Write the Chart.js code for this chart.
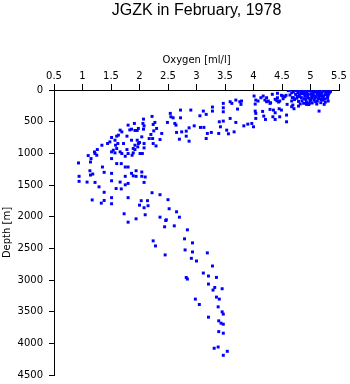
<!DOCTYPE html>
<html>
<head>
<meta charset="utf-8">
<script src="https://cdn.jsdelivr.net/npm/chart.js@4"></script>
<style>
html,body{margin:0;padding:0;background:#fff;}
#wrap{width:350px;height:384px;position:relative;}
</style>
</head>
<body>
<div id="wrap"><canvas id="c"></canvas></div>
<script>
// Tick values
const xTicks = [0.5, 1, 1.5, 2, 2.5, 3, 3.5, 4, 4.5, 5, 5.5];
const depthTicks = [0, 500, 1000, 1500, 2000, 2500, 3000, 3500, 4000, 4500];

// Surface cluster (oxygen ml/l, depth m)
const surfaceOxygen = [4.75,4.78,4.80,4.82,4.84,4.86,4.88,4.90,4.92,4.94,4.96,4.98,5.00,5.02,5.04,5.06,5.08,5.10,5.12,5.14,5.16,5.18,5.20,5.22,5.24,5.26,5.28,5.30,5.32,5.34,
  4.76,4.79,4.81,4.83,4.85,4.87,4.89,4.91,4.93,4.95,4.97,4.99,5.01,5.03,5.05,5.07,5.09,5.11,5.13,5.15,5.17,5.19,5.21,5.23,5.25,5.27,5.29,5.31,5.33,5.35,
  4.74,4.77,4.80,4.85,4.90,4.95,5.00,5.05,5.10,5.15,5.20,5.25,5.30,4.88,4.97,5.03,5.12,5.18,5.22,4.82,4.72,4.70,4.68,5.26,5.08,4.93,5.16];
const surfaceDepth = [10,40,80,20,120,60,5,100,150,30,70,130,15,90,50,160,25,110,65,140,10,85,45,120,20,75,35,100,55,15,
  130,180,105,55,170,35,140,60,195,85,10,175,60,125,30,95,185,40,80,115,55,150,5,90,140,60,15,80,40,25,
  70,100,0,15,45,120,160,75,0,35,100,0,130,210,230,205,175,200,160,220,150,30,120,190,130,0,90];

// Upper mixed layer points
const upperOxygen = [4.01,4.04,4.08,4.13,4.17,4.20,4.23,4.26,4.30,4.33,4.42,4.42,4.38,4.46,4.49,4.52,4.57,4.59,4.67,4.63,4.67,4.70,4.67,4.71,3.79,3.78,4.03,4.23,4.29,4.41,4.44,4.51,4.55,4.61,4.64,4.69,4.79,4.93,4.98,5.11,5.24,5.15,5.31,5.34,
  4.03,4.04,4.04,4.16,4.18,4.21,4.29,4.35,4.38,4.45,4.49,4.34,4.38,4.46,4.58,4.58,3.83,3.90,3.97,4.00];
const upperDepth = [95,159,174,122,95,159,122,174,201,68,52,122,147,174,84,138,84,227,174,0,43,122,264,296,174,227,222,185,211,170,190,95,106,11,79,238,254,227,211,222,227,333,174,16,
  333,369,449,338,412,465,306,317,359,296,317,423,465,423,396,502,566,539,528,581];

// Intermediate band
const midOxygen = [2.54,2.55,2.59,2.72,2.72,2.90,3.06,3.12,3.17,3.28,3.28,2.49,2.62,2.64,2.87,2.96,3.07,3.13,2.65,2.82,2.82,2.87,2.70,2.74,3.19,3.26,3.17,3.39,3.40,3.47,3.42,3.53,3.56,3.66,3.59,3.69,3.72,3.47,3.47,3.47,3.59,3.69,3.76,3.62];
const midDepth = [369,423,439,317,439,317,407,333,385,269,333,512,528,555,597,566,591,591,670,650,729,808,777,661,686,670,766,686,502,491,581,634,692,661,449,512,301,211,280,344,185,159,185,211];

// Oxygen minimum limb
const limbOxygen = [2.07,2.06,2.08,2.07,1.86,1.92,1.96,2.22,2.27,2.24,2.30,2.25,2.39,2.04,1.86,1.96,2.00,2.08,2.08,1.92,1.89,2.17,2.23,2.20,2.24,2.29,2.36,1.91,1.80,1.83,1.98,1.78,1.98,
  0.93,1.10,1.14,1.15,1.21,1.22,1.25,1.26,1.35,1.34,1.44,1.48,1.51,1.57,1.60,1.63,1.66,1.69,1.51,1.54,1.57,1.60,1.62,1.58,1.66,1.69,1.72,1.78,1.80,1.75,1.51,1.60,1.68,1.75,1.80,1.87,1.89,1.92,1.97,2.01,2.05];
const limbDepth = [460,528,566,618,618,639,639,417,512,544,607,645,686,740,793,793,829,845,914,872,924,766,766,702,845,883,782,528,555,630,607,729,845,
  1152,1035,1137,1083,978,1003,1030,940,1216,872,845,819,750,793,729,713,634,661,977,951,993,924,845,872,977,1003,845,940,1003,1046,1083,1162,1162,1216,1216,1030,993,940,898,1003,1003];

// Transition 1200-2100 m
const transOxygen = [0.94,0.94,1.08,1.13,1.14,1.18,1.38,1.51,1.51,1.22,1.29,1.17,1.59,1.68,1.66,1.75,1.75,1.80,1.86,1.89,1.94,1.94,2.04,2.08,2.04,2.10,
  1.38,1.51,1.38,1.33,1.51,1.80,2.22,2.36,2.50,2.03,2.14,2.00,2.15,2.08,2.52,2.65,1.73,2.10,2.36,2.70,1.94,2.47];
const transDepth = [1363,1442,1454,1275,1343,1327,1300,1316,1433,1459,1529,1736,1556,1562,1454,1363,1497,1475,1316,1355,1363,1275,1363,1459,1295,1374,
  1615,1700,1744,1786,1796,1700,1622,1653,1732,1748,1748,1818,1827,1859,1875,1923,1954,1970,2008,2008,2034,2049];

// Deep water
const deepOxygen = [1.80,2.46,2.44,2.61,2.84,2.24,2.28,2.79,2.93,2.80,2.93,2.45,3.19,2.91,3.00,3.28,3.12,3.21,3.35,2.82,2.84,3.21,3.32,3.29,3.45,3.35,3.40,2.98,3.05,3.38,3.45,3.47,3.21,3.39,3.43,3.47,3.39,3.47,3.38,3.31,3.54,3.47];
const deepDepth = [2087,2061,2160,2145,2208,2382,2462,2350,2414,2525,2557,2604,2572,2658,2700,2779,2890,2937,2959,2960,2985,3064,3118,3159,3138,3270,3302,3302,3387,3424,3503,3539,3587,3645,3682,3698,3815,3840,4058,4078,4126,4189];

const groups = [
  [surfaceOxygen, surfaceDepth],
  [upperOxygen, upperDepth],
  [midOxygen, midDepth],
  [limbOxygen, limbDepth],
  [transOxygen, transDepth],
  [deepOxygen, deepDepth]
];
const points = [];
groups.forEach(([ox, dp]) => {
  for (let i = 0; i < Math.min(ox.length, dp.length); i++) points.push({x: ox[i], y: dp[i]});
});

const tickFont = {family: 'DejaVu Sans', size: 10};

new Chart(document.getElementById('c'), {
  type: 'scatter',
  data: {
    datasets: [{
      data: points,
      pointStyle: 'rect',
      pointRadius: 2.1,
      pointBorderWidth: 0,
      backgroundColor: '#0000ff',
      borderColor: '#0000ff'
    }]
  },
  options: {
    responsive: true,
    maintainAspectRatio: false,
    animation: false,
    layout: {padding: {left: 0, right: 11, top: 0, bottom: 9}},
    plugins: {
      legend: {display: false},
      tooltip: {enabled: false},
      title: {
        display: true,
        text: 'JGZK in February, 1978',
        fullSize: false,
        color: '#000',
        font: {family: 'Liberation Sans', size: 16, weight: 'normal'},
        padding: {top: 1, bottom: 28.8}
      }
    },
    scales: {
      x: {
        type: 'linear',
        position: 'top',
        min: xTicks[0],
        max: xTicks[xTicks.length - 1],
        afterBuildTicks: s => { s.ticks = xTicks.map(v => ({value: v})); },
        afterFit: s => { s.height = 41; },
        ticks: {color: '#000', font: tickFont, padding: 2, maxRotation: 0,
          callback: v => String(v)},
        grid: {display: true, drawOnChartArea: false, drawTicks: true, tickLength: 6, color: '#000'},
        border: {display: true, color: '#000', width: 1},
        title: {display: true, text: 'Oxygen [ml/l]', color: '#000', font: tickFont, padding: {top: 5, bottom: 0}}
      },
      y: {
        type: 'linear',
        position: 'left',
        reverse: true,
        min: depthTicks[0],
        max: depthTicks[depthTicks.length - 1],
        afterBuildTicks: s => { s.ticks = depthTicks.map(v => ({value: v})); },
        afterFit: s => { s.width = 54; s.paddingTop = 0; s.paddingBottom = 0; },
        ticks: {color: '#000', font: tickFont, padding: 6, callback: v => String(v)},
        grid: {display: true, drawOnChartArea: false, drawTicks: true, tickLength: 5, color: '#000'},
        border: {display: true, color: '#000', width: 1},
        title: {display: true, text: 'Depth [m]', color: '#000', font: tickFont, padding: {top: 1, bottom: 0}}
      }
    }
  }
});
</script>
</body>
</html>
